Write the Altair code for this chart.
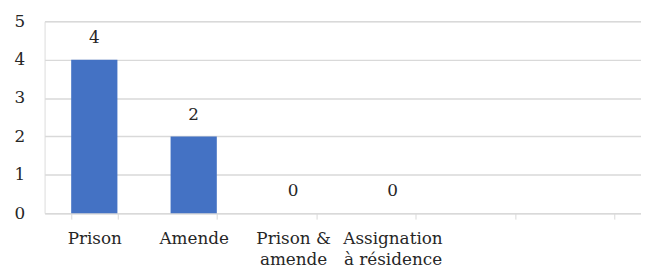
import altair as alt
import pandas as pd

categories = ["Prison", "Amende", "Prison &|amende", "Assignation|à résidence", "vide1", "vide2"]
values = [4, 2, 0, 0, None, None]
value_labels = ["4", "2", "0", "0", "", ""]

df = pd.DataFrame({"cat": categories, "value": values, "lab": value_labels})

FONT = "DejaVu Serif"
FS = 17
TXT = "#262626"
GRID = "#D9D9D9"

x = alt.X(
    "cat:N",
    sort=categories,
    scale=alt.Scale(domain=categories, paddingInner=0.535, paddingOuter=0.2675),
    axis=alt.Axis(
        title=None,
        labelAngle=0,
        labelExpr="indexof(datum.label, 'vide') == 0 ? '' : split(datum.label, '|')",
        tickBand="extent",
        grid=False,
        domainColor=GRID,
        tickColor=GRID,
        tickSize=6,
        labelFont=FONT,
        labelFontSize=FS,
        labelColor=TXT,
        labelPadding=12,
        labelLineHeight=21,
        labelBaseline="top",
        labelOverlap=False,
    ),
)

y = alt.Y(
    "value:Q",
    scale=alt.Scale(domain=[0, 5], nice=False),
    axis=alt.Axis(
        title=None,
        values=[0, 1, 2, 3, 4, 5],
        domain=False,
        ticks=False,
        gridColor=GRID,
        gridWidth=1.5,
        labelFont=FONT,
        labelFontSize=FS,
        labelColor=TXT,
        labelPadding=20,
    ),
)

base = alt.Chart(df).transform_filter("datum.value != null")

bars = base.mark_bar(color="#4472C4").encode(x=x, y=y)
texts = base.mark_text(
    dy=-17, baseline="alphabetic", font=FONT, fontSize=FS, color=TXT
).encode(x=x, y=y, text="lab:N")

chart = (
    alt.layer(bars, texts, data=df)
    .properties(
        width=603,
        height=194,
        autosize=alt.AutoSizeParams(type="none"),
        padding={"left": 37, "top": 12, "right": 0, "bottom": 56},
    )
    .configure_view(stroke=None)
    .configure(background="white")
)

chart.save("out.html", embed_options={"renderer": "svg", "actions": False})
